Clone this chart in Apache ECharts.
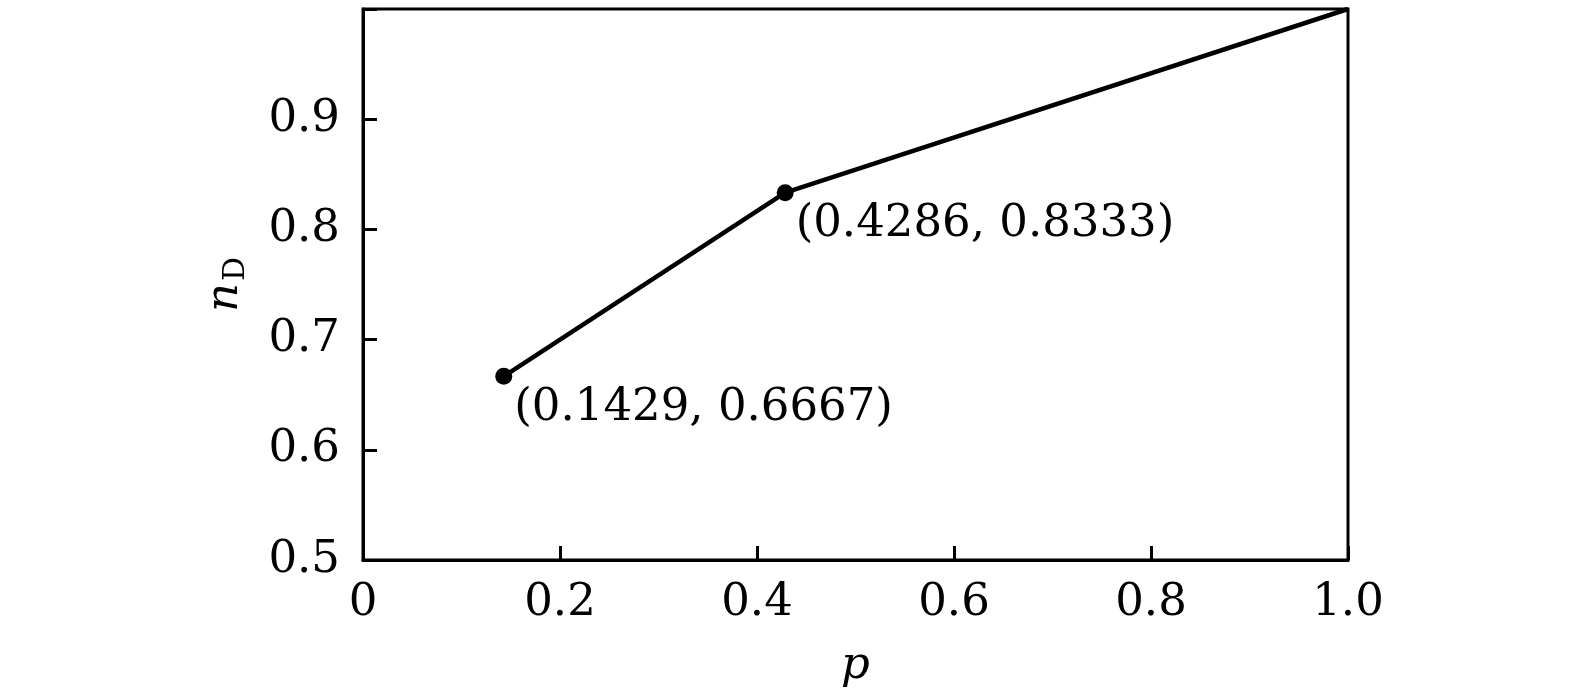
<!DOCTYPE html>
<html><head><meta charset="utf-8">
<script src="https://cdn.jsdelivr.net/npm/echarts@6/dist/echarts.min.js"></script>
<style>html,body{margin:0;padding:0;background:#fff}#c{width:1575px;height:699px}</style>
</head><body><div id="c"></div>
<script>
const pValues = [0.1429, 0.4286, 1.0];
const nDValues = [0.6667, 0.8333, 1.0];
const pointLabels = ['(0.1429, 0.6667)', '(0.4286, 0.8333)', ''];
const xTicks = [0, 0.2, 0.4, 0.6, 0.8, 1.0];
const yTicks = [0.5, 0.6, 0.7, 0.8, 0.9];

const FONT = 'DejaVu Serif';
const FS = 45;
const chart = echarts.init(document.getElementById('c'));
const data = pValues.map((p, i) => ({
  value: [p, nDValues[i]],
  symbolSize: pointLabels[i] ? 17 : 0,
  label: { show: !!pointLabels[i], formatter: pointLabels[i] }
}));
chart.setOption({
  animation: false,
  grid: { left: 363, right: 227, top: 9, bottom: 139, show: true, borderColor: '#000', borderWidth: 3, backgroundColor: 'transparent' },
  xAxis: {
    type: 'value', min: 0, max: 1, interval: 0.2,
    name: 'p', nameLocation: 'middle', nameGap: 84,
    nameTextStyle: { fontFamily: FONT, fontSize: FS, fontStyle: 'italic', color: '#000' },
    axisLine: { show: true, lineStyle: { color: '#000', width: 3 } },
    axisTick: { show: true, inside: true, length: 14, lineStyle: { color: '#000', width: 3 } },
    splitLine: { show: false },
    axisLabel: { margin: 21, fontFamily: FONT, fontSize: FS, color: '#000',
      formatter: v => { const t = xTicks.find(x => Math.abs(x - v) < 1e-9); return t === 0 ? '0' : (t !== undefined ? t.toFixed(1) : ''); } }
  },
  yAxis: {
    type: 'value', min: 0.5, max: 1.0, interval: 0.1,
    name: '{i|n}{s|D}', nameLocation: 'middle', nameGap: 112, nameRotate: 90,
    nameTextStyle: { rich: {
      i: { fontFamily: FONT, fontSize: FS, fontStyle: 'italic', color: '#000' },
      s: { fontFamily: FONT, fontSize: 30, color: '#000', padding: [22, 0, 0, 2] }
    } },
    axisLine: { show: true, lineStyle: { color: '#000', width: 3 } },
    axisTick: { show: true, inside: true, length: 14, lineStyle: { color: '#000', width: 3 } },
    splitLine: { show: false },
    axisLabel: { margin: 23, fontFamily: FONT, fontSize: FS, color: '#000',
      formatter: v => { const t = yTicks.find(y => Math.abs(y - v) < 1e-9); return t !== undefined ? t.toFixed(1) : ''; } }
  },
  series: [{
    type: 'line', data: data, symbol: 'circle',
    lineStyle: { color: '#000', width: 4.5 },
    itemStyle: { color: '#000' },
    label: { position: 'right', offset: [0, 32], fontFamily: FONT, fontSize: FS, color: '#000', distance: 2 }
  }]
});
</script></body></html>
